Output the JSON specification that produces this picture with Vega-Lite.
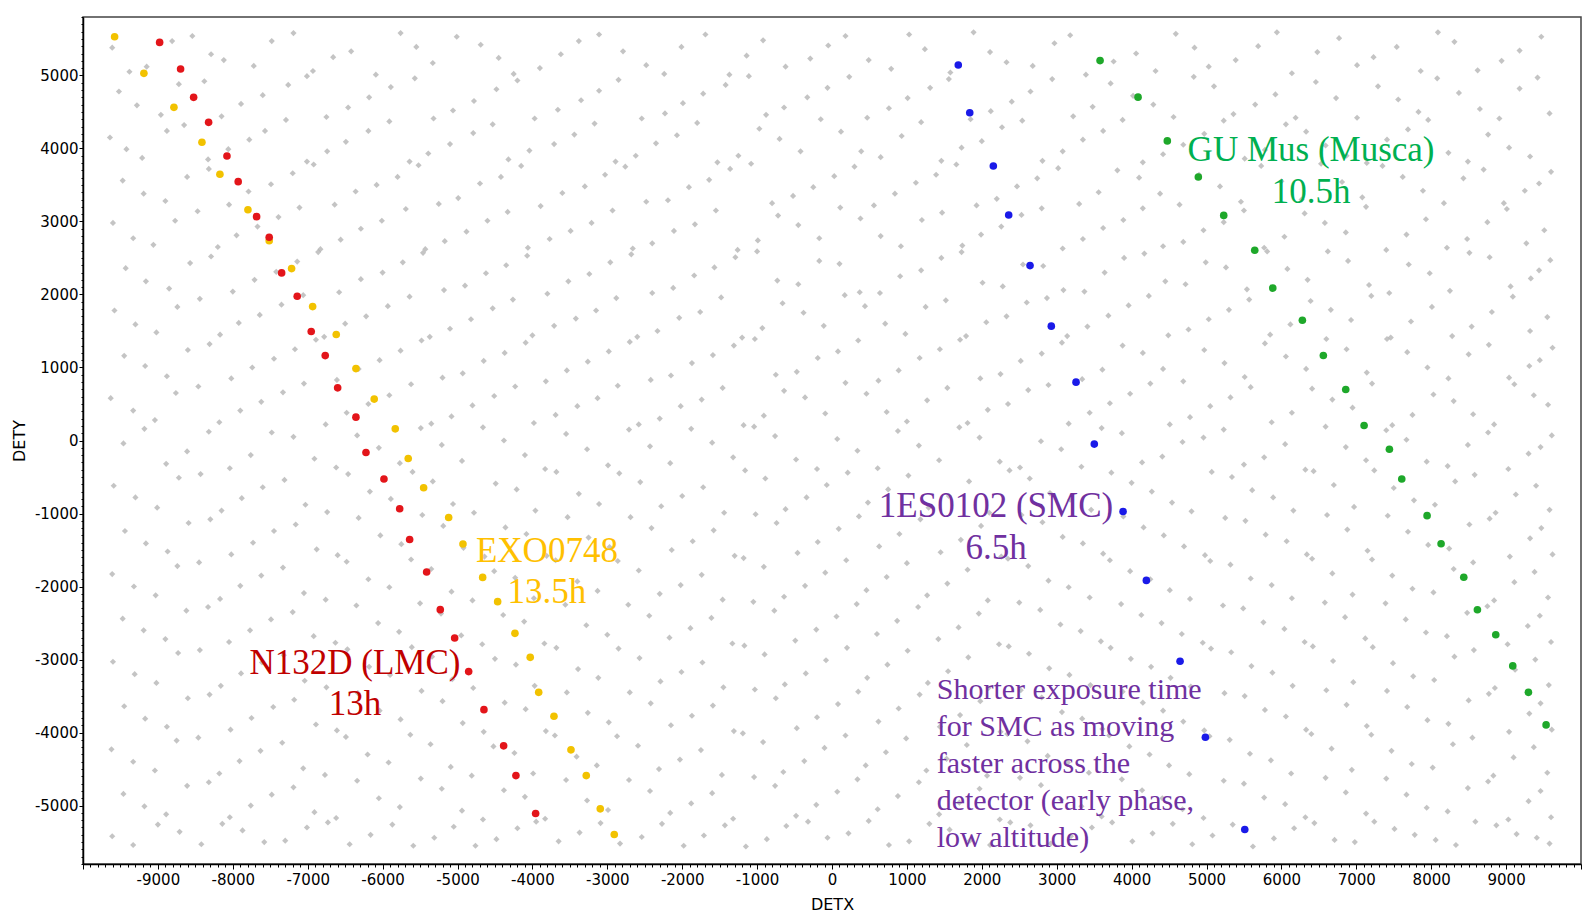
{
  "$schema": "https://vega.github.io/schema/vega-lite/v6.json",
  "width": 1498,
  "height": 847,
  "autosize": {"type": "none"},
  "padding": {"left": 83, "top": 17, "right": 14, "bottom": 50},
  "background": "white",
  "config": {"view": {"stroke": "#444444", "strokeWidth": 1.5}},
  "datasets": {
    "events": [
      {"x":-9610,"y":5380},{"x":-9150,"y":5120},{"x":-8540,"y":5540},{"x":-8120,"y":5210},{"x":-7480,"y":5470},{"x":-6930,"y":5060},{"x":-6420,"y":5330},{"x":-5760,"y":5580},{"x":-5330,"y":5170},{"x":-4690,"y":5420},{"x":-4250,"y":5020},{"x":-3620,"y":5290},{"x":-3110,"y":5560},{"x":-2480,"y":5140},{"x":-2010,"y":5390},{"x":-1370,"y":5010},{"x":-920,"y":5480},{"x":-290,"y":5230},{"x":180,"y":5540},{"x":790,"y":5090},{"x":1240,"y":5360},{"x":1890,"y":5590},{"x":2330,"y":5180},{"x":2970,"y":5440},{"x":3390,"y":5010},{"x":4060,"y":5300},{"x":4590,"y":5570},{"x":5030,"y":5120},{"x":5690,"y":5400},{"x":6140,"y":5030},{"x":6770,"y":5510},{"x":7230,"y":5250},{"x":7860,"y":5060},{"x":8310,"y":5460},{"x":8940,"y":5200},{"x":9470,"y":5530},
      {"x":-9520,"y":4780},{"x":-8960,"y":4460},{"x":-8380,"y":4920},{"x":-7890,"y":4610},{"x":-7260,"y":4870},{"x":-6750,"y":4430},{"x":-6180,"y":4700},{"x":-5570,"y":4960},{"x":-5060,"y":4520},{"x":-4480,"y":4810},{"x":-3970,"y":4410},{"x":-3350,"y":4660},{"x":-2850,"y":4940},{"x":-2230,"y":4480},{"x":-1720,"y":4750},{"x":-1110,"y":4990},{"x":-640,"y":4560},{"x":-60,"y":4830},{"x":470,"y":4420},{"x":1010,"y":4690},{"x":1560,"y":4950},{"x":2120,"y":4510},{"x":2650,"y":4780},{"x":3220,"y":4440},{"x":3720,"y":4890},{"x":4290,"y":4600},{"x":4830,"y":4980},{"x":5360,"y":4470},{"x":5920,"y":4740},{"x":6460,"y":4910},{"x":7010,"y":4420},{"x":7560,"y":4670},{"x":8080,"y":4960},{"x":8650,"y":4540},{"x":9180,"y":4820},{"x":9580,"y":4480},
      {"x":-9640,"y":4150},{"x":-9210,"y":3870},{"x":-8650,"y":4320},{"x":-8060,"y":3990},{"x":-7570,"y":4240},{"x":-7010,"y":3820},{"x":-6490,"y":4090},{"x":-5910,"y":4370},{"x":-5390,"y":3930},{"x":-4790,"y":4210},{"x":-4320,"y":3850},{"x":-3710,"y":4060},{"x":-3170,"y":4340},{"x":-2620,"y":3900},{"x":-2070,"y":4180},{"x":-1530,"y":3810},{"x":-970,"y":4270},{"x":-420,"y":3960},{"x":120,"y":4230},{"x":650,"y":3880},{"x":1190,"y":4360},{"x":1730,"y":4010},{"x":2270,"y":4290},{"x":2810,"y":3830},{"x":3350,"y":4120},{"x":3880,"y":4390},{"x":4420,"y":3920},{"x":4970,"y":4200},{"x":5510,"y":3860},{"x":6060,"y":4330},{"x":6590,"y":4040},{"x":7140,"y":3800},{"x":7690,"y":4260},{"x":8230,"y":3940},{"x":8760,"y":4190},{"x":9320,"y":3890},
      {"x":-9470,"y":3560},{"x":-8900,"y":3280},{"x":-8320,"y":3720},{"x":-7790,"y":3410},{"x":-7200,"y":3660},{"x":-6640,"y":3230},{"x":-6080,"y":3500},{"x":-5520,"y":3770},{"x":-4990,"y":3320},{"x":-4420,"y":3610},{"x":-3890,"y":3210},{"x":-3300,"y":3480},{"x":-2760,"y":3750},{"x":-2190,"y":3290},{"x":-1640,"y":3570},{"x":-1080,"y":3790},{"x":-520,"y":3350},{"x":30,"y":3620},{"x":560,"y":3220},{"x":1120,"y":3530},{"x":1660,"y":3780},{"x":2200,"y":3310},{"x":2740,"y":3590},{"x":3300,"y":3240},{"x":3810,"y":3700},{"x":4380,"y":3380},{"x":4900,"y":3640},{"x":5460,"y":3270},{"x":6000,"y":3550},{"x":6530,"y":3790},{"x":7080,"y":3330},{"x":7620,"y":3610},{"x":8170,"y":3250},{"x":8700,"y":3710},{"x":9250,"y":3420},{"x":9600,"y":3680},
      {"x":-9600,"y":2980},{"x":-9060,"y":2680},{"x":-8470,"y":3140},{"x":-7950,"y":2810},{"x":-7390,"y":3060},{"x":-6830,"y":2620},{"x":-6290,"y":2900},{"x":-5690,"y":3170},{"x":-5170,"y":2730},{"x":-4600,"y":3010},{"x":-4060,"y":2640},{"x":-3490,"y":2870},{"x":-2930,"y":3150},{"x":-2400,"y":2700},{"x":-1830,"y":2960},{"x":-1260,"y":2610},{"x":-720,"y":3080},{"x":-170,"y":2770},{"x":380,"y":3040},{"x":920,"y":2660},{"x":1470,"y":3120},{"x":1990,"y":2820},{"x":2530,"y":3090},{"x":3080,"y":2630},{"x":3620,"y":2910},{"x":4150,"y":3180},{"x":4690,"y":2720},{"x":5230,"y":2990},{"x":5770,"y":2640},{"x":6310,"y":3110},{"x":6860,"y":2850},{"x":7400,"y":2610},{"x":7930,"y":3030},{"x":8480,"y":2760},{"x":9010,"y":3170},{"x":9510,"y":2880},
      {"x":-9430,"y":2360},{"x":-8850,"y":2080},{"x":-8290,"y":2520},{"x":-7710,"y":2200},{"x":-7140,"y":2450},{"x":-6580,"y":2030},{"x":-6000,"y":2300},{"x":-5460,"y":2570},{"x":-4900,"y":2120},{"x":-4350,"y":2400},{"x":-3800,"y":2010},{"x":-3240,"y":2280},{"x":-2680,"y":2550},{"x":-2120,"y":2090},{"x":-1570,"y":2370},{"x":-1000,"y":2590},{"x":-450,"y":2140},{"x":100,"y":2420},{"x":640,"y":2020},{"x":1190,"y":2330},{"x":1730,"y":2580},{"x":2280,"y":2110},{"x":2820,"y":2390},{"x":3370,"y":2040},{"x":3900,"y":2500},{"x":4450,"y":2180},{"x":4990,"y":2440},{"x":5540,"y":2070},{"x":6080,"y":2350},{"x":6620,"y":2590},{"x":7170,"y":2130},{"x":7700,"y":2410},{"x":8250,"y":2050},{"x":8780,"y":2510},{"x":9330,"y":2220},{"x":9590,"y":2470},
      {"x":-9580,"y":1780},{"x":-9020,"y":1480},{"x":-8440,"y":1940},{"x":-7920,"y":1610},{"x":-7350,"y":1860},{"x":-6780,"y":1420},{"x":-6220,"y":1700},{"x":-5640,"y":1970},{"x":-5100,"y":1530},{"x":-4530,"y":1810},{"x":-4000,"y":1440},{"x":-3420,"y":1670},{"x":-2880,"y":1950},{"x":-2330,"y":1500},{"x":-1760,"y":1760},{"x":-1200,"y":1410},{"x":-660,"y":1880},{"x":-110,"y":1570},{"x":440,"y":1840},{"x":980,"y":1460},{"x":1520,"y":1920},{"x":2060,"y":1620},{"x":2600,"y":1890},{"x":3140,"y":1430},{"x":3690,"y":1710},{"x":4230,"y":1980},{"x":4760,"y":1520},{"x":5300,"y":1790},{"x":5850,"y":1450},{"x":6390,"y":1910},{"x":6930,"y":1650},{"x":7460,"y":1410},{"x":8010,"y":1830},{"x":8540,"y":1560},{"x":9090,"y":1970},{"x":9550,"y":1690},
      {"x":-9450,"y":1160},{"x":-8880,"y":880},{"x":-8310,"y":1320},{"x":-7740,"y":1000},{"x":-7170,"y":1250},{"x":-6610,"y":830},{"x":-6040,"y":1100},{"x":-5480,"y":1370},{"x":-4930,"y":920},{"x":-4370,"y":1200},{"x":-3820,"y":810},{"x":-3260,"y":1080},{"x":-2700,"y":1350},{"x":-2150,"y":890},{"x":-1590,"y":1170},{"x":-1030,"y":1390},{"x":-470,"y":940},{"x":80,"y":1220},{"x":620,"y":820},{"x":1170,"y":1130},{"x":1710,"y":1380},{"x":2250,"y":910},{"x":2800,"y":1190},{"x":3340,"y":840},{"x":3880,"y":1300},{"x":4420,"y":980},{"x":4970,"y":1240},{"x":5510,"y":870},{"x":6060,"y":1150},{"x":6600,"y":1390},{"x":7140,"y":930},{"x":7680,"y":1210},{"x":8230,"y":850},{"x":8770,"y":1310},{"x":9310,"y":1020},{"x":9620,"y":1270},
      {"x":-9630,"y":580},{"x":-9040,"y":280},{"x":-8460,"y":740},{"x":-7900,"y":410},{"x":-7330,"y":660},{"x":-6760,"y":220},{"x":-6190,"y":500},{"x":-5620,"y":770},{"x":-5080,"y":330},{"x":-4510,"y":610},{"x":-3980,"y":240},{"x":-3400,"y":470},{"x":-2860,"y":750},{"x":-2300,"y":300},{"x":-1740,"y":560},{"x":-1180,"y":210},{"x":-640,"y":680},{"x":-90,"y":370},{"x":460,"y":640},{"x":1000,"y":260},{"x":1540,"y":720},{"x":2080,"y":420},{"x":2620,"y":690},{"x":3160,"y":230},{"x":3710,"y":510},{"x":4250,"y":780},{"x":4780,"y":320},{"x":5320,"y":590},{"x":5870,"y":250},{"x":6410,"y":710},{"x":6950,"y":450},{"x":7480,"y":210},{"x":8030,"y":630},{"x":8560,"y":360},{"x":9110,"y":770},{"x":9560,"y":490},
      {"x":-9460,"y":-40},{"x":-8890,"y":-320},{"x":-8320,"y":120},{"x":-7760,"y":-200},{"x":-7190,"y":50},{"x":-6620,"y":-370},{"x":-6050,"y":-100},{"x":-5490,"y":170},{"x":-4940,"y":-280},{"x":-4380,"y":0},{"x":-3830,"y":-390},{"x":-3270,"y":-120},{"x":-2710,"y":150},{"x":-2160,"y":-310},{"x":-1600,"y":-30},{"x":-1040,"y":190},{"x":-480,"y":-260},{"x":70,"y":20},{"x":610,"y":-380},{"x":1160,"y":-70},{"x":1700,"y":180},{"x":2240,"y":-290},{"x":2790,"y":-10},{"x":3330,"y":-360},{"x":3870,"y":100},{"x":4410,"y":-220},{"x":4960,"y":40},{"x":5500,"y":-330},{"x":6050,"y":-50},{"x":6590,"y":190},{"x":7130,"y":-270},{"x":7670,"y":10},{"x":8220,"y":-350},{"x":8760,"y":110},{"x":9300,"y":-180},{"x":9610,"y":70},
      {"x":-9590,"y":-620},{"x":-9010,"y":-920},{"x":-8430,"y":-460},{"x":-7880,"y":-790},{"x":-7310,"y":-540},{"x":-6740,"y":-980},{"x":-6170,"y":-700},{"x":-5600,"y":-430},{"x":-5060,"y":-870},{"x":-4490,"y":-590},{"x":-3960,"y":-960},{"x":-3380,"y":-730},{"x":-2840,"y":-450},{"x":-2280,"y":-900},{"x":-1720,"y":-640},{"x":-1160,"y":-410},{"x":-620,"y":-940},{"x":-70,"y":-610},{"x":480,"y":-850},{"x":1020,"y":-480},{"x":1560,"y":-760},{"x":2100,"y":-990},{"x":2640,"y":-520},{"x":3180,"y":-810},{"x":3730,"y":-440},{"x":4270,"y":-700},{"x":4800,"y":-970},{"x":5340,"y":-500},{"x":5890,"y":-780},{"x":6430,"y":-420},{"x":6970,"y":-910},{"x":7500,"y":-650},{"x":8050,"y":-880},{"x":8580,"y":-470},{"x":9130,"y":-740},{"x":9580,"y":-950},
      {"x":-9440,"y":-1240},{"x":-8870,"y":-1520},{"x":-8300,"y":-1080},{"x":-7730,"y":-1400},{"x":-7160,"y":-1150},{"x":-6600,"y":-1570},{"x":-6030,"y":-1300},{"x":-5470,"y":-1020},{"x":-4920,"y":-1470},{"x":-4360,"y":-1190},{"x":-3810,"y":-1580},{"x":-3250,"y":-1330},{"x":-2690,"y":-1050},{"x":-2140,"y":-1500},{"x":-1580,"y":-1230},{"x":-1020,"y":-1010},{"x":-460,"y":-1540},{"x":90,"y":-1210},{"x":630,"y":-1450},{"x":1180,"y":-1080},{"x":1720,"y":-1360},{"x":2260,"y":-1590},{"x":2810,"y":-1120},{"x":3350,"y":-1410},{"x":3890,"y":-1040},{"x":4430,"y":-1300},{"x":4980,"y":-1570},{"x":5520,"y":-1100},{"x":6070,"y":-1380},{"x":6610,"y":-1020},{"x":7150,"y":-1510},{"x":7690,"y":-1250},{"x":8240,"y":-1480},{"x":8780,"y":-1070},{"x":9320,"y":-1340},{"x":9620,"y":-1560},
      {"x":-9610,"y":-1830},{"x":-9030,"y":-2120},{"x":-8450,"y":-1670},{"x":-7900,"y":-1990},{"x":-7330,"y":-1740},{"x":-6760,"y":-2180},{"x":-6190,"y":-1900},{"x":-5620,"y":-1630},{"x":-5080,"y":-2070},{"x":-4510,"y":-1790},{"x":-3980,"y":-2160},{"x":-3400,"y":-1930},{"x":-2860,"y":-1650},{"x":-2300,"y":-2100},{"x":-1740,"y":-1840},{"x":-1180,"y":-1610},{"x":-640,"y":-2140},{"x":-90,"y":-1810},{"x":460,"y":-2050},{"x":1000,"y":-1680},{"x":1540,"y":-1960},{"x":2080,"y":-2190},{"x":2620,"y":-1720},{"x":3160,"y":-2010},{"x":3710,"y":-1640},{"x":4250,"y":-1900},{"x":4780,"y":-2170},{"x":5320,"y":-1700},{"x":5870,"y":-1980},{"x":6410,"y":-1620},{"x":6950,"y":-2110},{"x":7480,"y":-1850},{"x":8030,"y":-2080},{"x":8560,"y":-1670},{"x":9110,"y":-1940},{"x":9560,"y":-2150},
      {"x":-9470,"y":-2440},{"x":-8900,"y":-2720},{"x":-8330,"y":-2280},{"x":-7770,"y":-2600},{"x":-7200,"y":-2350},{"x":-6630,"y":-2770},{"x":-6060,"y":-2500},{"x":-5500,"y":-2230},{"x":-4950,"y":-2670},{"x":-4390,"y":-2390},{"x":-3840,"y":-2780},{"x":-3280,"y":-2530},{"x":-2720,"y":-2250},{"x":-2170,"y":-2700},{"x":-1610,"y":-2430},{"x":-1050,"y":-2210},{"x":-490,"y":-2740},{"x":60,"y":-2410},{"x":600,"y":-2650},{"x":1150,"y":-2280},{"x":1690,"y":-2560},{"x":2230,"y":-2790},{"x":2780,"y":-2320},{"x":3320,"y":-2610},{"x":3860,"y":-2240},{"x":4400,"y":-2500},{"x":4950,"y":-2770},{"x":5490,"y":-2300},{"x":6040,"y":-2580},{"x":6580,"y":-2220},{"x":7120,"y":-2710},{"x":7660,"y":-2450},{"x":8210,"y":-2680},{"x":8750,"y":-2270},{"x":9290,"y":-2540},{"x":9600,"y":-2760},
      {"x":-9600,"y":-3030},{"x":-9020,"y":-3320},{"x":-8440,"y":-2870},{"x":-7890,"y":-3190},{"x":-7320,"y":-2940},{"x":-6750,"y":-3380},{"x":-6180,"y":-3100},{"x":-5610,"y":-2830},{"x":-5070,"y":-3270},{"x":-4500,"y":-2990},{"x":-3970,"y":-3360},{"x":-3390,"y":-3130},{"x":-2850,"y":-2850},{"x":-2290,"y":-3300},{"x":-1730,"y":-3040},{"x":-1170,"y":-2810},{"x":-630,"y":-3340},{"x":-80,"y":-3010},{"x":470,"y":-3250},{"x":1010,"y":-2880},{"x":1550,"y":-3160},{"x":2090,"y":-3390},{"x":2630,"y":-2920},{"x":3170,"y":-3210},{"x":3720,"y":-2840},{"x":4260,"y":-3100},{"x":4790,"y":-3370},{"x":5330,"y":-2900},{"x":5880,"y":-3180},{"x":6420,"y":-2820},{"x":6960,"y":-3310},{"x":7490,"y":-3050},{"x":8040,"y":-3280},{"x":8570,"y":-2870},{"x":9120,"y":-3140},{"x":9570,"y":-3350},
      {"x":-9450,"y":-3640},{"x":-8880,"y":-3920},{"x":-8310,"y":-3480},{"x":-7750,"y":-3800},{"x":-7180,"y":-3550},{"x":-6610,"y":-3970},{"x":-6040,"y":-3700},{"x":-5480,"y":-3430},{"x":-4930,"y":-3870},{"x":-4370,"y":-3590},{"x":-3820,"y":-3980},{"x":-3260,"y":-3730},{"x":-2700,"y":-3450},{"x":-2150,"y":-3900},{"x":-1590,"y":-3630},{"x":-1030,"y":-3410},{"x":-470,"y":-3940},{"x":80,"y":-3610},{"x":620,"y":-3850},{"x":1170,"y":-3480},{"x":1710,"y":-3760},{"x":2250,"y":-3990},{"x":2800,"y":-3520},{"x":3340,"y":-3810},{"x":3880,"y":-3440},{"x":4420,"y":-3700},{"x":4970,"y":-3970},{"x":5510,"y":-3500},{"x":6060,"y":-3780},{"x":6600,"y":-3420},{"x":7140,"y":-3910},{"x":7680,"y":-3650},{"x":8230,"y":-3880},{"x":8770,"y":-3470},{"x":9310,"y":-3740},{"x":9610,"y":-3960},
      {"x":-9620,"y":-4230},{"x":-9040,"y":-4520},{"x":-8460,"y":-4070},{"x":-7910,"y":-4390},{"x":-7340,"y":-4140},{"x":-6770,"y":-4580},{"x":-6200,"y":-4300},{"x":-5630,"y":-4030},{"x":-5090,"y":-4470},{"x":-4520,"y":-4190},{"x":-3990,"y":-4560},{"x":-3410,"y":-4330},{"x":-2870,"y":-4050},{"x":-2310,"y":-4500},{"x":-1750,"y":-4240},{"x":-1190,"y":-4010},{"x":-650,"y":-4540},{"x":-100,"y":-4210},{"x":450,"y":-4450},{"x":990,"y":-4080},{"x":1530,"y":-4360},{"x":2070,"y":-4590},{"x":2610,"y":-4120},{"x":3150,"y":-4410},{"x":3700,"y":-4040},{"x":4240,"y":-4300},{"x":4770,"y":-4570},{"x":5310,"y":-4100},{"x":5860,"y":-4380},{"x":6400,"y":-4020},{"x":6940,"y":-4510},{"x":7470,"y":-4250},{"x":8020,"y":-4480},{"x":8550,"y":-4070},{"x":9100,"y":-4340},{"x":9550,"y":-4550},
      {"x":-9460,"y":-4840},{"x":-8890,"y":-5120},{"x":-8320,"y":-4680},{"x":-7760,"y":-5000},{"x":-7190,"y":-4750},{"x":-6620,"y":-5170},{"x":-6050,"y":-4900},{"x":-5490,"y":-4630},{"x":-4940,"y":-5070},{"x":-4380,"y":-4790},{"x":-3830,"y":-5180},{"x":-3270,"y":-4930},{"x":-2710,"y":-4650},{"x":-2160,"y":-5100},{"x":-1600,"y":-4830},{"x":-1040,"y":-4610},{"x":-480,"y":-5140},{"x":70,"y":-4810},{"x":610,"y":-5050},{"x":1160,"y":-4680},{"x":1700,"y":-4960},{"x":2240,"y":-5190},{"x":2790,"y":-4720},{"x":3330,"y":-5010},{"x":3870,"y":-4640},{"x":4410,"y":-4900},{"x":4960,"y":-5170},{"x":5500,"y":-4700},{"x":6050,"y":-4980},{"x":6590,"y":-4620},{"x":7130,"y":-5110},{"x":7670,"y":-4850},{"x":8220,"y":-5080},{"x":8760,"y":-4670},{"x":9300,"y":-4940},{"x":9600,"y":-5160},
      {"x":-9610,"y":-5420},{"x":-9000,"y":-5260},{"x":-8420,"y":-5530},{"x":-7870,"y":-5340},{"x":-7300,"y":-5480},{"x":-6730,"y":-5230},{"x":-6160,"y":-5400},{"x":-5590,"y":-5550},{"x":-5050,"y":-5290},{"x":-4480,"y":-5460},{"x":-3950,"y":-5220},{"x":-3370,"y":-5370},{"x":-2830,"y":-5520},{"x":-2270,"y":-5250},{"x":-1710,"y":-5410},{"x":-1150,"y":-5560},{"x":-610,"y":-5280},{"x":-60,"y":-5440},{"x":490,"y":-5210},{"x":1030,"y":-5490},{"x":1570,"y":-5330},{"x":2110,"y":-5540},{"x":2650,"y":-5270},{"x":3190,"y":-5420},{"x":3740,"y":-5230},{"x":4280,"y":-5380},{"x":4810,"y":-5530},{"x":5350,"y":-5260},{"x":5900,"y":-5450},{"x":6440,"y":-5240},{"x":6980,"y":-5500},{"x":7510,"y":-5320},{"x":8060,"y":-5470},{"x":8590,"y":-5220},{"x":9140,"y":-5390},{"x":9580,"y":-5520},
      {"x":-9380,"y":5050},{"x":-8810,"y":5470},{"x":-8290,"y":5290},{"x":-7720,"y":5130},{"x":-7190,"y":5580},{"x":-6660,"y":5250},{"x":-6090,"y":5010},{"x":-5550,"y":5390},{"x":-5010,"y":5530},{"x":-4450,"y":5240},{"x":-3900,"y":5100},{"x":-3380,"y":5470},{"x":-2790,"y":5330},{"x":-2240,"y":5020},{"x":-1690,"y":5560},{"x":-1140,"y":5270},{"x":-620,"y":5120},{"x":-50,"y":5410},{"x":490,"y":5210},{"x":1030,"y":5560},{"x":1580,"y":5040},{"x":2110,"y":5320},{"x":2680,"y":5130},{"x":3180,"y":5550},{"x":3760,"y":5190},{"x":4320,"y":5060},{"x":4840,"y":5380},{"x":5390,"y":5210},{"x":5940,"y":5590},{"x":6480,"y":5320},{"x":7010,"y":5140},{"x":7540,"y":5390},{"x":8090,"y":5590},{"x":8620,"y":5070},{"x":9180,"y":5340},
      {"x":-9280,"y":4590},{"x":-8720,"y":4880},{"x":-8150,"y":4440},{"x":-7600,"y":4730},{"x":-7010,"y":4990},{"x":-6460,"y":4560},{"x":-5890,"y":4840},{"x":-5320,"y":4410},{"x":-4780,"y":4650},{"x":-4200,"y":4930},{"x":-3660,"y":4530},{"x":-3110,"y":4790},{"x":-2540,"y":4410},{"x":-1990,"y":4620},{"x":-1420,"y":4870},{"x":-880,"y":4460},{"x":-330,"y":4700},{"x":230,"y":4980},{"x":760,"y":4550},{"x":1310,"y":4830},{"x":1850,"y":4400},{"x":2400,"y":4640},{"x":2940,"y":4950},{"x":3480,"y":4570},{"x":4020,"y":4720},{"x":4560,"y":4430},{"x":5100,"y":4850},{"x":5650,"y":4600},{"x":6190,"y":4420},{"x":6730,"y":4690},{"x":7290,"y":4850},{"x":7830,"y":4500},{"x":8370,"y":4760},{"x":8910,"y":4410},{"x":9420,"y":4970},
      {"x":-9420,"y":3990},{"x":-8880,"y":4240},{"x":-8330,"y":3850},{"x":-7780,"y":4120},{"x":-7290,"y":4390},{"x":-6740,"y":3960},{"x":-6190,"y":4240},{"x":-5640,"y":3820},{"x":-5100,"y":4060},{"x":-4530,"y":4330},{"x":-4040,"y":3970},{"x":-3440,"y":4190},{"x":-2890,"y":3820},{"x":-2350,"y":4070},{"x":-1800,"y":4350},{"x":-1250,"y":3900},{"x":-700,"y":4130},{"x":-150,"y":4400},{"x":390,"y":3960},{"x":930,"y":4170},{"x":1460,"y":3830},{"x":2000,"y":4100},{"x":2540,"y":4380},{"x":3080,"y":3960},{"x":3620,"y":4240},{"x":4150,"y":3810},{"x":4690,"y":4050},{"x":5230,"y":4380},{"x":5780,"y":3980},{"x":6330,"y":4230},{"x":6870,"y":3900},{"x":7410,"y":4120},{"x":7960,"y":4390},{"x":8490,"y":3820},{"x":9040,"y":4010},
      {"x":-9190,"y":3380},{"x":-8610,"y":3610},{"x":-8050,"y":3230},{"x":-7490,"y":3510},{"x":-6920,"y":3780},{"x":-6360,"y":3410},{"x":-5800,"y":3610},{"x":-5250,"y":3240},{"x":-4700,"y":3520},{"x":-4150,"y":3760},{"x":-3600,"y":3390},{"x":-3030,"y":3640},{"x":-2480,"y":3270},{"x":-1910,"y":3470},{"x":-1360,"y":3720},{"x":-800,"y":3250},{"x":-250,"y":3470},{"x":300,"y":3750},{"x":840,"y":3380},{"x":1390,"y":3640},{"x":1930,"y":3220},{"x":2470,"y":3480},{"x":3020,"y":3730},{"x":3560,"y":3400},{"x":4100,"y":3600},{"x":4640,"y":3230},{"x":5180,"y":3480},{"x":5730,"y":3760},{"x":6270,"y":3300},{"x":6810,"y":3540},{"x":7350,"y":3760},{"x":7890,"y":3420},{"x":8430,"y":3590},{"x":8970,"y":3250},{"x":9440,"y":3520},
      {"x":-9330,"y":2770},{"x":-8770,"y":3010},{"x":-8200,"y":2650},{"x":-7670,"y":2930},{"x":-7110,"y":3190},{"x":-6560,"y":2750},{"x":-6010,"y":3010},{"x":-5430,"y":2620},{"x":-4880,"y":2860},{"x":-4330,"y":3130},{"x":-3770,"y":2760},{"x":-3210,"y":2980},{"x":-2660,"y":2630},{"x":-2110,"y":2870},{"x":-1550,"y":3150},{"x":-990,"y":2740},{"x":-450,"y":2950},{"x":110,"y":3190},{"x":650,"y":2800},{"x":1200,"y":3020},{"x":1740,"y":2670},{"x":2260,"y":2930},{"x":2800,"y":3180},{"x":3350,"y":2760},{"x":3890,"y":3020},{"x":4420,"y":2660},{"x":4960,"y":2880},{"x":5500,"y":3150},{"x":6040,"y":2790},{"x":6580,"y":2980},{"x":7130,"y":3200},{"x":7670,"y":2820},{"x":8210,"y":2640},{"x":8750,"y":2990},{"x":9270,"y":2700},
      {"x":-9160,"y":2180},{"x":-8570,"y":2430},{"x":-8000,"y":2040},{"x":-7420,"y":2310},{"x":-6860,"y":2580},{"x":-6290,"y":2210},{"x":-5730,"y":2440},{"x":-5180,"y":2060},{"x":-4620,"y":2290},{"x":-4070,"y":2530},{"x":-3520,"y":2180},{"x":-2960,"y":2440},{"x":-2400,"y":2020},{"x":-1840,"y":2260},{"x":-1290,"y":2510},{"x":-730,"y":2190},{"x":-170,"y":2460},{"x":370,"y":2030},{"x":910,"y":2250},{"x":1460,"y":2500},{"x":2010,"y":2160},{"x":2550,"y":2410},{"x":3090,"y":2060},{"x":3640,"y":2300},{"x":4170,"y":2560},{"x":4720,"y":2140},{"x":5260,"y":2370},{"x":5810,"y":2590},{"x":6350,"y":2200},{"x":6890,"y":2460},{"x":7440,"y":2020},{"x":7980,"y":2290},{"x":8510,"y":2570},{"x":9060,"y":2110},{"x":9440,"y":2330},
      {"x":-9300,"y":1590},{"x":-8740,"y":1830},{"x":-8170,"y":1450},{"x":-7640,"y":1720},{"x":-7060,"y":1990},{"x":-6500,"y":1600},{"x":-5930,"y":1840},{"x":-5370,"y":1420},{"x":-4820,"y":1660},{"x":-4260,"y":1930},{"x":-3710,"y":1570},{"x":-3150,"y":1780},{"x":-2600,"y":1420},{"x":-2040,"y":1680},{"x":-1480,"y":1960},{"x":-930,"y":1540},{"x":-380,"y":1750},{"x":170,"y":1990},{"x":710,"y":1600},{"x":1250,"y":1830},{"x":1790,"y":1430},{"x":2330,"y":1700},{"x":2870,"y":1950},{"x":3410,"y":1560},{"x":3960,"y":1850},{"x":4490,"y":1440},{"x":5030,"y":1660},{"x":5570,"y":1930},{"x":6120,"y":1590},{"x":6660,"y":1790},{"x":7200,"y":1980},{"x":7730,"y":1630},{"x":8280,"y":1430},{"x":8810,"y":1760},{"x":9320,"y":1500},
      {"x":-9170,"y":1020},{"x":-8600,"y":1240},{"x":-8020,"y":850},{"x":-7450,"y":1120},{"x":-6890,"y":1380},{"x":-6320,"y":980},{"x":-5760,"y":1230},{"x":-5200,"y":860},{"x":-4650,"y":1090},{"x":-4090,"y":1340},{"x":-3540,"y":960},{"x":-2980,"y":1220},{"x":-2420,"y":830},{"x":-1870,"y":1060},{"x":-1310,"y":1300},{"x":-750,"y":900},{"x":-190,"y":1130},{"x":350,"y":1370},{"x":890,"y":960},{"x":1440,"y":1250},{"x":1980,"y":850},{"x":2520,"y":1090},{"x":3070,"y":1340},{"x":3610,"y":970},{"x":4150,"y":1200},{"x":4690,"y":810},{"x":5240,"y":1060},{"x":5780,"y":1330},{"x":6330,"y":980},{"x":6870,"y":1250},{"x":7410,"y":1390},{"x":7950,"y":1000},{"x":8500,"y":1180},{"x":9040,"y":860},{"x":9450,"y":1100},
      {"x":-9330,"y":410},{"x":-8760,"y":650},{"x":-8180,"y":250},{"x":-7620,"y":530},{"x":-7050,"y":780},{"x":-6480,"y":380},{"x":-5910,"y":620},{"x":-5350,"y":230},{"x":-4800,"y":480},{"x":-4230,"y":740},{"x":-3690,"y":350},{"x":-3130,"y":580},{"x":-2580,"y":220},{"x":-2020,"y":470},{"x":-1460,"y":720},{"x":-910,"y":340},{"x":-360,"y":590},{"x":180,"y":790},{"x":730,"y":390},{"x":1270,"y":550},{"x":1810,"y":240},{"x":2350,"y":500},{"x":2890,"y":760},{"x":3440,"y":380},{"x":3980,"y":640},{"x":4510,"y":220},{"x":5050,"y":470},{"x":5590,"y":730},{"x":6140,"y":380},{"x":6680,"y":560},{"x":7210,"y":780},{"x":7750,"y":350},{"x":8300,"y":540},{"x":8840,"y":220},{"x":9370,"y":620},
      {"x":-9180,"y":160},{"x":-8610,"y":-150},{"x":-8040,"y":-380},{"x":-7480,"y":110},{"x":-6910,"y":-250},{"x":-6340,"y":70},{"x":-5770,"y":-310},{"x":-5210,"y":-60},{"x":-4660,"y":180},{"x":-4100,"y":-200},{"x":-3550,"y":90},{"x":-2990,"y":-340},{"x":-2430,"y":-80},{"x":-1880,"y":160},{"x":-1320,"y":-230},{"x":-760,"y":60},{"x":-200,"y":-390},{"x":340,"y":-140},{"x":880,"y":130},{"x":1430,"y":-270},{"x":1970,"y":40},{"x":2510,"y":-370},{"x":3060,"y":-120},{"x":3600,"y":170},{"x":4140,"y":-300},{"x":4680,"y":-20},{"x":5230,"y":150},{"x":5770,"y":-230},{"x":6320,"y":-400},{"x":6860,"y":-90},{"x":7400,"y":140},{"x":7940,"y":-290},{"x":8490,"y":-60},{"x":9030,"y":-390},{"x":9460,"y":-90},
      {"x":-9300,"y":-780},{"x":-8720,"y":-510},{"x":-8150,"y":-960},{"x":-7600,"y":-640},{"x":-7030,"y":-880},{"x":-6460,"y":-460},{"x":-5890,"y":-800},{"x":-5330,"y":-560},{"x":-4780,"y":-990},{"x":-4210,"y":-670},{"x":-3680,"y":-430},{"x":-3110,"y":-870},{"x":-2560,"y":-570},{"x":-2000,"y":-760},{"x":-1440,"y":-990},{"x":-890,"y":-520},{"x":-340,"y":-780},{"x":210,"y":-440},{"x":750,"y":-670},{"x":1290,"y":-920},{"x":1830,"y":-560},{"x":2370,"y":-410},{"x":2910,"y":-720},{"x":3460,"y":-950},{"x":4000,"y":-580},{"x":4540,"y":-850},{"x":5070,"y":-430},{"x":5610,"y":-680},{"x":6160,"y":-960},{"x":6700,"y":-610},{"x":7240,"y":-410},{"x":7770,"y":-820},{"x":8320,"y":-560},{"x":8860,"y":-990},{"x":9400,"y":-620},
      {"x":-9160,"y":-1410},{"x":-8590,"y":-1130},{"x":-8020,"y":-1560},{"x":-7450,"y":-1240},{"x":-6880,"y":-1490},{"x":-6320,"y":-1060},{"x":-5750,"y":-1420},{"x":-5190,"y":-1170},{"x":-4640,"y":-1590},{"x":-4080,"y":-1280},{"x":-3530,"y":-1050},{"x":-2970,"y":-1460},{"x":-2410,"y":-1200},{"x":-1860,"y":-1380},{"x":-1300,"y":-1580},{"x":-740,"y":-1130},{"x":-190,"y":-1390},{"x":360,"y":-1040},{"x":900,"y":-1280},{"x":1450,"y":-1530},{"x":1990,"y":-1170},{"x":2530,"y":-1020},{"x":3080,"y":-1320},{"x":3620,"y":-1550},{"x":4160,"y":-1190},{"x":4700,"y":-1450},{"x":5250,"y":-1060},{"x":5790,"y":-1290},{"x":6340,"y":-1560},{"x":6880,"y":-1220},{"x":7420,"y":-1030},{"x":7960,"y":-1430},{"x":8510,"y":-1150},{"x":9050,"y":-1590},{"x":9470,"y":-1200},
      {"x":-9320,"y":-2000},{"x":-8740,"y":-1720},{"x":-8170,"y":-2170},{"x":-7620,"y":-1850},{"x":-7050,"y":-2090},{"x":-6480,"y":-1660},{"x":-5910,"y":-2010},{"x":-5350,"y":-1760},{"x":-4800,"y":-2190},{"x":-4230,"y":-1880},{"x":-3690,"y":-1640},{"x":-3130,"y":-2060},{"x":-2580,"y":-1780},{"x":-2020,"y":-1980},{"x":-1460,"y":-2180},{"x":-910,"y":-1730},{"x":-360,"y":-1990},{"x":190,"y":-1640},{"x":730,"y":-1870},{"x":1270,"y":-2120},{"x":1810,"y":-1770},{"x":2350,"y":-1620},{"x":2890,"y":-1920},{"x":3440,"y":-2150},{"x":3980,"y":-1790},{"x":4510,"y":-2050},{"x":5050,"y":-1650},{"x":5590,"y":-1890},{"x":6140,"y":-2160},{"x":6680,"y":-1820},{"x":7210,"y":-1630},{"x":7750,"y":-2030},{"x":8300,"y":-1760},{"x":8840,"y":-2190},{"x":9380,"y":-1800},
      {"x":-9190,"y":-2600},{"x":-8620,"y":-2330},{"x":-8050,"y":-2760},{"x":-7490,"y":-2450},{"x":-6920,"y":-2680},{"x":-6350,"y":-2260},{"x":-5780,"y":-2620},{"x":-5220,"y":-2370},{"x":-4670,"y":-2790},{"x":-4110,"y":-2480},{"x":-3560,"y":-2250},{"x":-3000,"y":-2660},{"x":-2440,"y":-2400},{"x":-1890,"y":-2570},{"x":-1330,"y":-2780},{"x":-770,"y":-2330},{"x":-210,"y":-2590},{"x":330,"y":-2240},{"x":870,"y":-2470},{"x":1420,"y":-2720},{"x":1960,"y":-2370},{"x":2500,"y":-2220},{"x":3050,"y":-2520},{"x":3590,"y":-2750},{"x":4130,"y":-2390},{"x":4670,"y":-2650},{"x":5220,"y":-2260},{"x":5760,"y":-2490},{"x":6310,"y":-2760},{"x":6850,"y":-2420},{"x":7390,"y":-2230},{"x":7930,"y":-2630},{"x":8480,"y":-2360},{"x":9020,"y":-2790},{"x":9450,"y":-2400},
      {"x":-9310,"y":-3200},{"x":-8730,"y":-2910},{"x":-8160,"y":-3360},{"x":-7610,"y":-3040},{"x":-7040,"y":-3290},{"x":-6470,"y":-2860},{"x":-5900,"y":-3210},{"x":-5340,"y":-2960},{"x":-4790,"y":-3390},{"x":-4220,"y":-3070},{"x":-3680,"y":-2840},{"x":-3120,"y":-3250},{"x":-2570,"y":-2980},{"x":-2010,"y":-3170},{"x":-1450,"y":-3380},{"x":-900,"y":-2930},{"x":-350,"y":-3190},{"x":200,"y":-2840},{"x":740,"y":-3070},{"x":1280,"y":-3320},{"x":1820,"y":-2970},{"x":2360,"y":-2820},{"x":2900,"y":-3120},{"x":3450,"y":-3350},{"x":3990,"y":-2990},{"x":4520,"y":-3250},{"x":5060,"y":-2850},{"x":5600,"y":-3090},{"x":6150,"y":-3360},{"x":6690,"y":-3020},{"x":7220,"y":-2830},{"x":7760,"y":-3230},{"x":8310,"y":-2960},{"x":8850,"y":-3390},{"x":9390,"y":-3000},
      {"x":-9170,"y":-3810},{"x":-8600,"y":-3530},{"x":-8030,"y":-3960},{"x":-7460,"y":-3650},{"x":-6890,"y":-3890},{"x":-6330,"y":-3460},{"x":-5760,"y":-3820},{"x":-5200,"y":-3570},{"x":-4650,"y":-3990},{"x":-4090,"y":-3680},{"x":-3540,"y":-3450},{"x":-2980,"y":-3860},{"x":-2420,"y":-3600},{"x":-1870,"y":-3770},{"x":-1310,"y":-3980},{"x":-750,"y":-3530},{"x":-200,"y":-3790},{"x":350,"y":-3440},{"x":890,"y":-3670},{"x":1440,"y":-3920},{"x":1980,"y":-3570},{"x":2520,"y":-3420},{"x":3070,"y":-3720},{"x":3610,"y":-3950},{"x":4150,"y":-3590},{"x":4690,"y":-3850},{"x":5240,"y":-3460},{"x":5780,"y":-3690},{"x":6330,"y":-3960},{"x":6870,"y":-3620},{"x":7410,"y":-3430},{"x":7950,"y":-3830},{"x":8500,"y":-3560},{"x":9040,"y":-3990},{"x":9460,"y":-3600},
      {"x":-9330,"y":-4400},{"x":-8750,"y":-4110},{"x":-8180,"y":-4560},{"x":-7630,"y":-4250},{"x":-7060,"y":-4490},{"x":-6490,"y":-4060},{"x":-5920,"y":-4410},{"x":-5360,"y":-4160},{"x":-4810,"y":-4590},{"x":-4240,"y":-4280},{"x":-3700,"y":-4040},{"x":-3140,"y":-4450},{"x":-2590,"y":-4180},{"x":-2030,"y":-4370},{"x":-1470,"y":-4580},{"x":-920,"y":-4130},{"x":-370,"y":-4390},{"x":180,"y":-4040},{"x":720,"y":-4270},{"x":1260,"y":-4520},{"x":1800,"y":-4170},{"x":2340,"y":-4020},{"x":2880,"y":-4320},{"x":3430,"y":-4550},{"x":3970,"y":-4190},{"x":4500,"y":-4450},{"x":5040,"y":-4050},{"x":5580,"y":-4290},{"x":6130,"y":-4560},{"x":6670,"y":-4220},{"x":7200,"y":-4030},{"x":7740,"y":-4430},{"x":8290,"y":-4160},{"x":8830,"y":-4590},{"x":9370,"y":-4200},
      {"x":-9180,"y":-5010},{"x":-8610,"y":-4730},{"x":-8040,"y":-5160},{"x":-7480,"y":-4850},{"x":-6910,"y":-5090},{"x":-6340,"y":-4660},{"x":-5770,"y":-5020},{"x":-5210,"y":-4770},{"x":-4660,"y":-5190},{"x":-4100,"y":-4880},{"x":-3550,"y":-4650},{"x":-2990,"y":-5060},{"x":-2430,"y":-4800},{"x":-1880,"y":-4970},{"x":-1320,"y":-5180},{"x":-760,"y":-4730},{"x":-210,"y":-4990},{"x":340,"y":-4640},{"x":880,"y":-4870},{"x":1430,"y":-5120},{"x":1970,"y":-4770},{"x":2510,"y":-4620},{"x":3060,"y":-4920},{"x":3600,"y":-5150},{"x":4140,"y":-4790},{"x":4680,"y":-5050},{"x":5230,"y":-4660},{"x":5770,"y":-4890},{"x":6320,"y":-5160},{"x":6860,"y":-4820},{"x":7400,"y":-4630},{"x":7940,"y":-5030},{"x":8490,"y":-4760},{"x":9030,"y":-5190},{"x":9460,"y":-4800},
      {"x":-9330,"y":-5540},{"x":-8710,"y":-5360},{"x":-8140,"y":-5250},{"x":-7580,"y":-5500},{"x":-7010,"y":-5300},{"x":-6440,"y":-5530},{"x":-5870,"y":-5260},{"x":-5310,"y":-5440},{"x":-4760,"y":-5550},{"x":-4200,"y":-5310},{"x":-3650,"y":-5490},{"x":-3090,"y":-5240},{"x":-2540,"y":-5430},{"x":-1980,"y":-5550},{"x":-1430,"y":-5270},{"x":-870,"y":-5460},{"x":-320,"y":-5220},{"x":220,"y":-5380},{"x":760,"y":-5540},{"x":1300,"y":-5250},{"x":1840,"y":-5480},{"x":2380,"y":-5230},{"x":2920,"y":-5520},{"x":3470,"y":-5300},{"x":4010,"y":-5490},{"x":4550,"y":-5250},{"x":5080,"y":-5410},{"x":5620,"y":-5560},{"x":6170,"y":-5310},{"x":6710,"y":-5470},{"x":7240,"y":-5220},{"x":7780,"y":-5400},{"x":8330,"y":-5540},{"x":8870,"y":-5270},{"x":9410,"y":-5440}
    ],
    "tracks": [
      {"source":"EXO0748","x":-9578,"y":5529},{"source":"EXO0748","x":-9187,"y":5028},{"source":"EXO0748","x":-8786,"y":4563},{"source":"EXO0748","x":-8412,"y":4084},{"source":"EXO0748","x":-8172,"y":3646},{"source":"EXO0748","x":-7798,"y":3161},{"source":"EXO0748","x":-7514,"y":2737},{"source":"EXO0748","x":-7215,"y":2354},{"source":"EXO0748","x":-6934,"y":1834},{"source":"EXO0748","x":-6619,"y":1451},{"source":"EXO0748","x":-6356,"y":985},{"source":"EXO0748","x":-6112,"y":567},{"source":"EXO0748","x":-5831,"y":160},{"source":"EXO0748","x":-5658,"y":-246},{"source":"EXO0748","x":-5452,"y":-647},{"source":"EXO0748","x":-5118,"y":-1054},{"source":"EXO0748","x":-4927,"y":-1418},{"source":"EXO0748","x":-4664,"y":-1875},{"source":"EXO0748","x":-4464,"y":-2207},{"source":"EXO0748","x":-4233,"y":-2641},{"source":"EXO0748","x":-4029,"y":-2970},{"source":"EXO0748","x":-3916,"y":-3449},{"source":"EXO0748","x":-3712,"y":-3777},{"source":"EXO0748","x":-3485,"y":-4237},{"source":"EXO0748","x":-3281,"y":-4589},{"source":"EXO0748","x":-3094,"y":-5045},{"source":"EXO0748","x":-2907,"y":-5396},
      {"source":"N132D","x":-8977,"y":5452},{"source":"N132D","x":-8697,"y":5087},{"source":"N132D","x":-8523,"y":4700},{"source":"N132D","x":-8323,"y":4357},{"source":"N132D","x":-8078,"y":3896},{"source":"N132D","x":-7928,"y":3545},{"source":"N132D","x":-7682,"y":3066},{"source":"N132D","x":-7514,"y":2784},{"source":"N132D","x":-7348,"y":2295},{"source":"N132D","x":-7140,"y":1976},{"source":"N132D","x":-6953,"y":1492},{"source":"N132D","x":-6766,"y":1163},{"source":"N132D","x":-6600,"y":721},{"source":"N132D","x":-6356,"y":320},{"source":"N132D","x":-6222,"y":-164},{"source":"N132D","x":-5982,"y":-528},{"source":"N132D","x":-5772,"y":-935},{"source":"N132D","x":-5639,"y":-1355},{"source":"N132D","x":-5412,"y":-1801},{"source":"N132D","x":-5230,"y":-2317},{"source":"N132D","x":-5038,"y":-2704},{"source":"N132D","x":-4851,"y":-3165},{"source":"N132D","x":-4647,"y":-3686},{"source":"N132D","x":-4384,"y":-4182},{"source":"N132D","x":-4220,"y":-4589},{"source":"N132D","x":-3957,"y":-5109},
      {"source":"1ES0102","x":1686,"y":5142},{"source":"1ES0102","x":1839,"y":4489},{"source":"1ES0102","x":2154,"y":3759},{"source":"1ES0102","x":2359,"y":3089},{"source":"1ES0102","x":2644,"y":2395},{"source":"1ES0102","x":2928,"y":1566},{"source":"1ES0102","x":3258,"y":799},{"source":"1ES0102","x":3502,"y":-49},{"source":"1ES0102","x":3886,"y":-972},{"source":"1ES0102","x":4197,"y":-1916},{"source":"1ES0102","x":4647,"y":-3024},{"source":"1ES0102","x":4985,"y":-4065},{"source":"1ES0102","x":5511,"y":-5328},
      {"source":"GU Mus","x":3579,"y":5203},{"source":"GU Mus","x":4086,"y":4702},{"source":"GU Mus","x":4477,"y":4103},{"source":"GU Mus","x":4891,"y":3608},{"source":"GU Mus","x":5230,"y":3083},{"source":"GU Mus","x":5644,"y":2606},{"source":"GU Mus","x":5885,"y":2087},{"source":"GU Mus","x":6280,"y":1646},{"source":"GU Mus","x":6560,"y":1165},{"source":"GU Mus","x":6859,"y":699},{"source":"GU Mus","x":7104,"y":205},{"source":"GU Mus","x":7442,"y":-119},{"source":"GU Mus","x":7607,"y":-528},{"source":"GU Mus","x":7945,"y":-1029},{"source":"GU Mus","x":8132,"y":-1414},{"source":"GU Mus","x":8435,"y":-1872},{"source":"GU Mus","x":8617,"y":-2318},{"source":"GU Mus","x":8862,"y":-2660},{"source":"GU Mus","x":9089,"y":-3087},{"source":"GU Mus","x":9298,"y":-3449},{"source":"GU Mus","x":9534,"y":-3895}
    ],
    "labels": [
      {"source":"EXO0748","text":"EXO0748","x":-3806,"y":-1660},
      {"source":"EXO0748","text":"13.5h","x":-3806,"y":-2221},
      {"source":"N132D","text":"N132D (LMC)","x":-6369,"y":-3193},
      {"source":"N132D","text":"13h","x":-6369,"y":-3754},
      {"source":"1ES0102","text":"1ES0102 (SMC)","x":2190,"y":-1044},
      {"source":"1ES0102","text":"6.5h","x":2190,"y":-1623},
      {"source":"GU Mus","text":"GU Mus (Musca)","x":6396,"y":3822},
      {"source":"GU Mus","text":"10.5h","x":6396,"y":3253}
    ],
    "notes": [
      {"text":"Shorter exposure time\nfor SMC as moving\nfaster across the\ndetector (early phase,\nlow altitude)","x":1398,"y":-3539}
    ]
  },
  "encoding": {
    "x": {
      "field": "x", "type": "quantitative", "title": "DETX",
      "scale": {"domain": [-10000, 10000], "nice": false, "zero": false},
      "axis": {
        "tickCount": 200,
        "labelExpr": "datum.value % 1000 === 0 && abs(datum.value) < 10000 ? '' + datum.value : ''",
        "labelOverlap": false, "labelFlush": false, "grid": false,
        "tickSize": {"condition": {"test": "datum.value % 1000 === 0", "value": 5}, "value": 3},
        "tickColor": "#000000", "tickWidth": 1,
        "domainColor": "#000000", "domainWidth": 1.5,
        "labelFont": "DejaVu Sans", "labelFontSize": 15, "labelColor": "#000000", "labelPadding": 3,
        "titleFont": "DejaVu Sans", "titleFontSize": 16, "titleFontWeight": "normal", "titleColor": "#000000", "titlePadding": 9
      }
    },
    "y": {
      "field": "y", "type": "quantitative", "title": "DETY",
      "scale": {"domain": [-5800, 5800], "nice": false, "zero": false},
      "axis": {
        "tickCount": 116,
        "labelExpr": "datum.value % 1000 === 0 ? '' + datum.value : ''",
        "labelOverlap": false, "labelFlush": false, "grid": false,
        "tickSize": {"condition": {"test": "datum.value % 1000 === 0", "value": 4}, "value": 2},
        "tickColor": "#000000", "tickWidth": 1,
        "domainColor": "#000000", "domainWidth": 1.5,
        "labelFont": "DejaVu Sans", "labelFontSize": 15, "labelColor": "#000000", "labelPadding": 1,
        "titleFont": "DejaVu Sans", "titleFontSize": 16, "titleFontWeight": "normal", "titleColor": "#000000", "titlePadding": 7
      }
    }
  },
  "layer": [
    {
      "data": {"name": "events"},
      "mark": {"type": "point", "shape": "diamond", "filled": true, "size": 38, "color": "#b0b0b0", "opacity": 0.75}
    },
    {
      "data": {"name": "tracks"},
      "mark": {"type": "circle", "size": 58, "opacity": 1},
      "encoding": {
        "color": {"field": "source", "type": "nominal", "legend": null,
          "scale": {"domain": ["EXO0748", "N132D", "1ES0102", "GU Mus"], "range": ["#F2C200", "#E3151A", "#1A1AE8", "#1EA82A"]}}
      }
    },
    {
      "data": {"name": "labels"},
      "mark": {"type": "text", "font": "Liberation Serif", "fontSize": 35, "align": "center", "baseline": "alphabetic"},
      "encoding": {
        "text": {"field": "text", "type": "nominal"},
        "color": {"field": "source", "type": "nominal", "legend": null,
          "scale": {"domain": ["EXO0748", "N132D", "1ES0102", "GU Mus"], "range": ["#FFC000", "#C00000", "#7030A0", "#00B050"]}}
      }
    },
    {
      "data": {"name": "notes"},
      "mark": {"type": "text", "font": "Liberation Serif", "fontSize": 30, "lineHeight": 37, "lineBreak": "\n", "align": "left", "baseline": "alphabetic", "color": "#7030A0"},
      "encoding": {"text": {"field": "text", "type": "nominal"}}
    }
  ],
  "resolve": {"scale": {"color": "independent"}}
}
